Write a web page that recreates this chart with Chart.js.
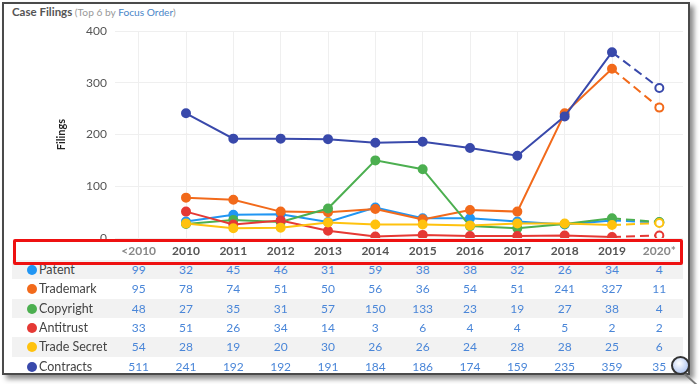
<!DOCTYPE html>
<html>
<head>
<meta charset="utf-8">
<script src="https://cdn.jsdelivr.net/npm/chart.js@4.4.1/dist/chart.umd.min.js"></script>
<style>
    body { margin: 0; width: 700px; height: 384px; background: #fff; font-family: Lato, sans-serif; overflow: hidden; position: relative; }
    #marco { position: absolute; left: 2px; top: 2px; width: 684px; height: 369px; border: 2px solid #4a4a4a; box-shadow: 4px 4px 5px rgba(0,0,0,0.45); background: #fff; }
    #titulo { position: absolute; left: 12px; top: 5px; font-size: 10.2px; color: #999; white-space: nowrap; }
    #titulo b { color: #555; font-size: 11.5px; }
    #titulo span { color: #4a86c8; }
    #myChart { position: absolute; left: 0; top: 0; }
    .fila { position: absolute; left: 12px; width: 671px; height: 19.4px; }
    .fila.gris { background: #f2f2f2; }
    .etiqueta { position: absolute; left: 15px; top: 0; line-height: 19.4px; font-size: 12.5px; color: #444; }
    .etiqueta i { display: inline-block; width: 10px; height: 10px; border-radius: 50%; vertical-align: -1px; margin-right: 2px; }
    .celda { position: absolute; top: 0; width: 40px; margin-left: -20px; text-align: center; line-height: 19.4px; font-size: 12px; color: #4a86d8; }
    #cajaRoja { position: absolute; left: 13px; top: 239px; width: 664px; height: 20px; border: 3px solid #ee1111; border-radius: 2px; z-index: 5; }
    #lupa { position: absolute; left: 671px; top: 356px; width: 15px; height: 15px; border: 2px solid #333; border-radius: 50%; background: radial-gradient(circle at 40% 35%, #fff, #b9ccf2 70%, #8fa9e0); z-index: 6; }
    #mango { position: absolute; left: 684px; top: 372px; width: 20px; height: 2px; background: #777; transform: rotate(42deg); transform-origin: 0 0; z-index: 5; }
</style>
</head>
<body>
<div id="marco"></div>
<div id="titulo"><b>Case Filings</b> (Top 6 by <span>Focus Order</span>)</div>
<canvas id="myChart" width="700" height="384"></canvas>
<div id="tabla"></div>
<div id="cajaRoja"></div>
<div id="lupa"></div>
<div id="mango"></div>

<script>
// Categorías del eje X
const categorias = ['<2010', '2010', '2011', '2012', '2013', '2014', '2015', '2016', '2017', '2018', '2019', '2020*'];
const ticksY = [0, 100, 200, 300, 400];

// Valores de la tabla (por año)
const patent = [99, 32, 45, 46, 31, 59, 38, 38, 32, 26, 34, 4];
const trademark = [95, 78, 74, 51, 50, 56, 36, 54, 51, 241, 327, 11];
const copyright = [48, 27, 35, 31, 57, 150, 133, 23, 19, 27, 38, 4];
const antitrust = [33, 51, 26, 34, 14, 3, 6, 4, 4, 5, 2, 2];
const tradeSecret = [54, 28, 19, 20, 30, 26, 26, 24, 28, 28, 25, 6];
const contracts = [511, 241, 192, 192, 191, 184, 186, 174, 159, 235, 359, 35];

// Proyección 2020* que se dibuja en el gráfico (mismo orden que las series)
const proyeccion2020 = [30, 252, 31, 5, 29, 290];

const nombres = ['Patent', 'Trademark', 'Copyright', 'Antitrust', 'Trade Secret', 'Contracts'];
const colores = ['#2196f3', '#f26a1b', '#4caf50', '#e53935', '#ffc20e', '#3949ab'];
const series = [patent, trademark, copyright, antitrust, tradeSecret, contracts];

const ultimo = categorias.length - 1;

const datasets = series.map((valores, s) => ({
    label: nombres[s],
    data: valores.map((v, i) => i === 0 ? null : (i === ultimo ? proyeccion2020[s] : v)),
    borderColor: colores[s],
    backgroundColor: colores[s],
    borderWidth: 2,
    pointRadius: 4,
    pointBorderWidth: 2,
    pointBackgroundColor: valores.map((v, i) => i === ultimo ? '#fff' : colores[s]),
    pointBorderColor: colores[s],
    order: 5 - s,
    tension: 0,
    segment: {
        borderDash: ctx => ctx.p1DataIndex === ultimo ? [9, 5] : undefined
    }
}));

const config = {
    type: 'line',
    data: { labels: categorias, datasets: datasets },
    options: {
        responsive: false,
        animation: false,
        layout: { padding: { left: 55, right: 17, top: 31, bottom: 126 } },
        plugins: { legend: { display: false }, tooltip: { enabled: false } },
        scales: {
            x: {
                offset: true,
                grid: { color: '#efefef', offset: false, drawTicks: false },
                border: { display: false },
                ticks: { font: { family: 'Lato', size: 12, weight: 'bold' }, color: ctx => (ctx.index === 0 || ctx.index === ultimo) ? '#888' : '#555', padding: 6, autoSkip: false, maxRotation: 0 },
                afterFit: scale => { scale.height = 20; }
            },
            y: {
                min: 0,
                max: 400,
                afterBuildTicks: scale => { scale.ticks = ticksY.map(v => ({ value: v })); },
                grid: { color: '#efefef', drawTicks: false },
                border: { display: false },
                ticks: { font: { family: 'Lato', size: 12 }, color: '#555', padding: 8 },
                title: { display: true, text: 'Filings', font: { family: 'Lato', size: 11, weight: 'bold' }, color: '#222', padding: 0 },
                afterFit: scale => { scale.width = 60; }
            }
        }
    }
};

const myChart = new Chart(document.getElementById('myChart'), config);

// Tabla debajo del gráfico, alineada con las categorías del eje X
const tabla = document.getElementById('tabla');
const topFilas = 259.7;
const altoFila = 19.4;
series.forEach((valores, s) => {
    const fila = document.createElement('div');
    fila.className = 'fila' + (s % 2 === 0 ? ' gris' : '');
    fila.style.top = (topFilas + s * altoFila) + 'px';
    fila.innerHTML = `<div class="etiqueta"><i style="background:${colores[s]}"></i>${nombres[s]}</div>`;
    valores.forEach((v, i) => {
        const celda = document.createElement('div');
        celda.className = 'celda';
        celda.style.left = (myChart.scales.x.getPixelForValue(i) - 12) + 'px';
        celda.textContent = v;
        fila.appendChild(celda);
    });
    tabla.appendChild(fila);
});
</script>
</body>
</html>
